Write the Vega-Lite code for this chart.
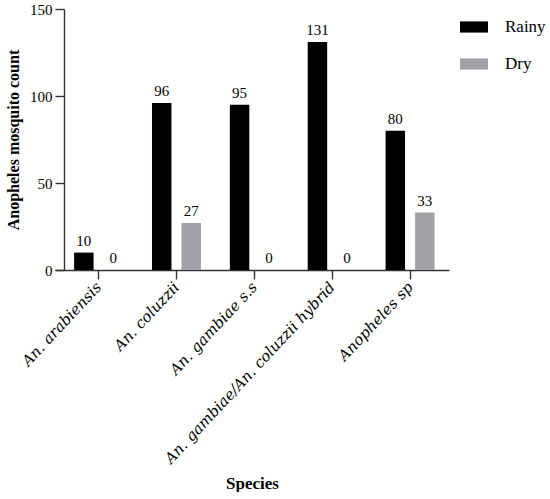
{
  "$schema": "https://vega.github.io/schema/vega-lite/v6.json",
  "width": 394,
  "height": 261,
  "padding": {"left": 5, "top": 2, "right": 0, "bottom": 0},
  "config": {
    "view": {"stroke": null},
    "font": "Liberation Serif",
    "text": {"font": "Liberation Serif"},
    "legend": {"labelFont": "Liberation Serif"},
    "axis": {
      "domainColor": "#333333",
      "domainWidth": 1.4,
      "tickColor": "#333333",
      "tickWidth": 1.4,
      "tickSize": 9,
      "grid": false,
      "labelColor": "#000000",
      "titleColor": "#000000",
      "labelFont": "Liberation Serif",
      "titleFont": "Liberation Serif"
    }
  },
  "data": {
    "values": [
      {"species": "An. arabiensis", "season": "Rainy", "count": 10},
      {"species": "An. arabiensis", "season": "Dry", "count": 0},
      {"species": "An. coluzzii", "season": "Rainy", "count": 96},
      {"species": "An. coluzzii", "season": "Dry", "count": 27},
      {"species": "An. gambiae s.s", "season": "Rainy", "count": 95},
      {"species": "An. gambiae s.s", "season": "Dry", "count": 0},
      {"species": "An. gambiae/An. coluzzii hybrid", "season": "Rainy", "count": 131},
      {"species": "An. gambiae/An. coluzzii hybrid", "season": "Dry", "count": 0},
      {"species": "Anopheles sp", "season": "Rainy", "count": 80},
      {"species": "Anopheles sp", "season": "Dry", "count": 33}
    ]
  },
  "encoding": {
    "x": {
      "field": "species",
      "type": "nominal",
      "sort": null,
      "title": "Species",
      "scale": {"paddingInner": 0, "paddingOuter": 0.03, "align": 1},
      "axis": {
        "labelAngle": -47,
        "labelFont": "DejaVu Serif",
        "labelFontStyle": "italic",
        "labelFontSize": 15,
        "labelLimit": 400,
        "labelPadding": 5,
        "titleFontSize": 17,
        "titleFontWeight": "bold",
        "titlePadding": 9
      }
    },
    "xOffset": {
      "field": "season",
      "type": "nominal",
      "sort": ["Rainy", "Dry"],
      "scale": {"paddingInner": 0.34, "paddingOuter": 0.49}
    },
    "y": {
      "field": "count",
      "type": "quantitative",
      "title": "Anopheles mosquito count",
      "scale": {"domain": [0, 150]},
      "axis": {
        "values": [0, 50, 100, 150],
        "offset": -9,
        "labelFontSize": 15,
        "labelPadding": 3,
        "titleFontSize": 16,
        "titleFontWeight": "bold",
        "titlePadding": 8
      }
    }
  },
  "layer": [
    {
      "mark": {"type": "bar"},
      "encoding": {
        "color": {
          "field": "season",
          "type": "nominal",
          "title": null,
          "scale": {"domain": ["Rainy", "Dry"], "range": ["#000000", "#a2a2a6"]},
          "legend": {
            "orient": "none",
            "legendX": 405,
            "legendY": 4,
            "padding": 0,
            "symbolType": "M-1,-0.4H1V0.4H-1Z",
            "symbolSize": 784,
            "symbolStrokeWidth": 0,
            "labelFont": "Liberation Serif",
            "labelFontSize": 17,
            "labelOffset": 17,
            "rowPadding": 15
          }
        }
      }
    },
    {
      "mark": {"type": "text", "font": "Liberation Serif", "baseline": "alphabetic", "dy": -7, "fontSize": 15},
      "encoding": {
        "text": {"field": "count", "type": "quantitative"}
      }
    }
  ]
}
